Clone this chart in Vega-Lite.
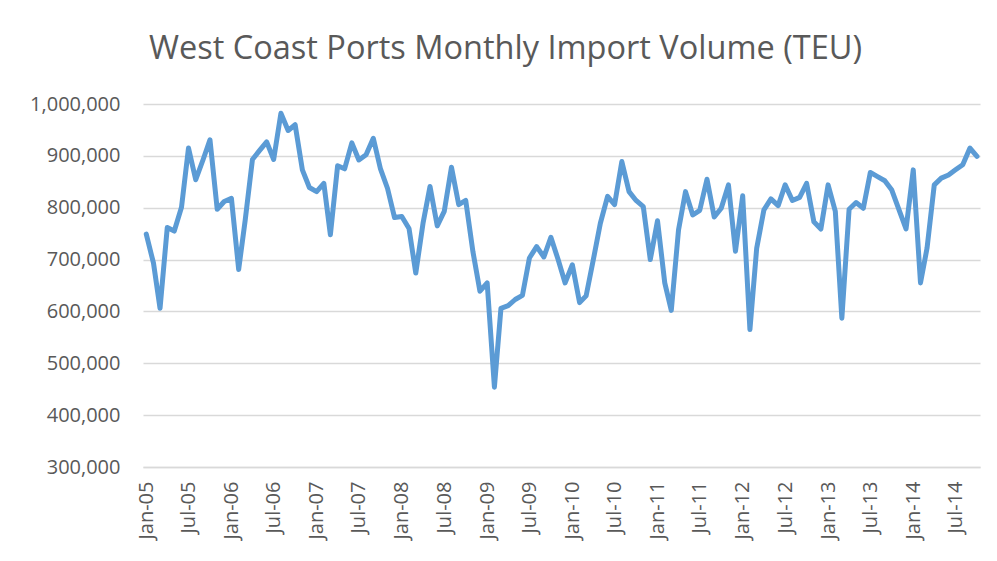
{
  "$schema": "https://vega.github.io/schema/vega-lite/v6.json",
  "width": 837,
  "height": 363,
  "autosize": {"type": "none"},
  "padding": {"left": 143, "top": 104, "right": 17, "bottom": 94},
  "background": "white",
  "title": {
    "text": "West Coast Ports Monthly Import Volume (TEU)",
    "font": "Open Sans",
    "fontSize": 32.5,
    "fontWeight": "normal",
    "color": "#595959",
    "anchor": "middle",
    "dx": -56,
    "offset": 29
  },
  "config": {
    "view": {"stroke": null},
    "axis": {
      "labelFont": "Open Sans",
      "labelFontSize": 20,
      "labelColor": "#595959",
      "gridColor": "#d9d9d9",
      "gridWidth": 1.5,
      "domainColor": "#d9d9d9",
      "domainWidth": 1.5,
      "ticks": false,
      "title": null
    }
  },
  "data": {
    "values": [
      {"month": "2005-01-01", "teu": 749000}, {"month": "2005-02-01", "teu": 693000}, {"month": "2005-03-01", "teu": 606000},
      {"month": "2005-04-01", "teu": 762000}, {"month": "2005-05-01", "teu": 755000}, {"month": "2005-06-01", "teu": 801000},
      {"month": "2005-07-01", "teu": 915000}, {"month": "2005-08-01", "teu": 854000}, {"month": "2005-09-01", "teu": 892000},
      {"month": "2005-10-01", "teu": 931000}, {"month": "2005-11-01", "teu": 797000}, {"month": "2005-12-01", "teu": 812000},
      {"month": "2006-01-01", "teu": 818000}, {"month": "2006-02-01", "teu": 681000}, {"month": "2006-03-01", "teu": 776000},
      {"month": "2006-04-01", "teu": 893000}, {"month": "2006-05-01", "teu": 910000}, {"month": "2006-06-01", "teu": 927000},
      {"month": "2006-07-01", "teu": 893000}, {"month": "2006-08-01", "teu": 982000}, {"month": "2006-09-01", "teu": 949000},
      {"month": "2006-10-01", "teu": 960000}, {"month": "2006-11-01", "teu": 873000}, {"month": "2006-12-01", "teu": 839000},
      {"month": "2007-01-01", "teu": 831000}, {"month": "2007-02-01", "teu": 847000}, {"month": "2007-03-01", "teu": 748000},
      {"month": "2007-04-01", "teu": 881000}, {"month": "2007-05-01", "teu": 875000}, {"month": "2007-06-01", "teu": 925000},
      {"month": "2007-07-01", "teu": 892000}, {"month": "2007-08-01", "teu": 902000}, {"month": "2007-09-01", "teu": 934000},
      {"month": "2007-10-01", "teu": 876000}, {"month": "2007-11-01", "teu": 837000}, {"month": "2007-12-01", "teu": 781000},
      {"month": "2008-01-01", "teu": 783000}, {"month": "2008-02-01", "teu": 760000}, {"month": "2008-03-01", "teu": 674000},
      {"month": "2008-04-01", "teu": 770000}, {"month": "2008-05-01", "teu": 841000}, {"month": "2008-06-01", "teu": 765000},
      {"month": "2008-07-01", "teu": 793000}, {"month": "2008-08-01", "teu": 878000}, {"month": "2008-09-01", "teu": 806000},
      {"month": "2008-10-01", "teu": 814000}, {"month": "2008-11-01", "teu": 715000}, {"month": "2008-12-01", "teu": 639000},
      {"month": "2009-01-01", "teu": 655000}, {"month": "2009-02-01", "teu": 454000}, {"month": "2009-03-01", "teu": 606000},
      {"month": "2009-04-01", "teu": 611000}, {"month": "2009-05-01", "teu": 623000}, {"month": "2009-06-01", "teu": 631000},
      {"month": "2009-07-01", "teu": 703000}, {"month": "2009-08-01", "teu": 725000}, {"month": "2009-09-01", "teu": 705000},
      {"month": "2009-10-01", "teu": 743000}, {"month": "2009-11-01", "teu": 700000}, {"month": "2009-12-01", "teu": 655000},
      {"month": "2010-01-01", "teu": 690000}, {"month": "2010-02-01", "teu": 617000}, {"month": "2010-03-01", "teu": 630000},
      {"month": "2010-04-01", "teu": 700000}, {"month": "2010-05-01", "teu": 770000}, {"month": "2010-06-01", "teu": 822000},
      {"month": "2010-07-01", "teu": 806000}, {"month": "2010-08-01", "teu": 889000}, {"month": "2010-09-01", "teu": 831000},
      {"month": "2010-10-01", "teu": 814000}, {"month": "2010-11-01", "teu": 802000}, {"month": "2010-12-01", "teu": 700000},
      {"month": "2011-01-01", "teu": 775000}, {"month": "2011-02-01", "teu": 655000}, {"month": "2011-03-01", "teu": 602000},
      {"month": "2011-04-01", "teu": 757000}, {"month": "2011-05-01", "teu": 831000}, {"month": "2011-06-01", "teu": 786000},
      {"month": "2011-07-01", "teu": 795000}, {"month": "2011-08-01", "teu": 855000}, {"month": "2011-09-01", "teu": 782000},
      {"month": "2011-10-01", "teu": 799000}, {"month": "2011-11-01", "teu": 844000}, {"month": "2011-12-01", "teu": 716000},
      {"month": "2012-01-01", "teu": 823000}, {"month": "2012-02-01", "teu": 565000}, {"month": "2012-03-01", "teu": 722000},
      {"month": "2012-04-01", "teu": 796000}, {"month": "2012-05-01", "teu": 817000}, {"month": "2012-06-01", "teu": 804000},
      {"month": "2012-07-01", "teu": 844000}, {"month": "2012-08-01", "teu": 814000}, {"month": "2012-09-01", "teu": 820000},
      {"month": "2012-10-01", "teu": 847000}, {"month": "2012-11-01", "teu": 773000}, {"month": "2012-12-01", "teu": 759000},
      {"month": "2013-01-01", "teu": 844000}, {"month": "2013-02-01", "teu": 793000}, {"month": "2013-03-01", "teu": 587000},
      {"month": "2013-04-01", "teu": 797000}, {"month": "2013-05-01", "teu": 810000}, {"month": "2013-06-01", "teu": 799000},
      {"month": "2013-07-01", "teu": 868000}, {"month": "2013-08-01", "teu": 860000}, {"month": "2013-09-01", "teu": 852000},
      {"month": "2013-10-01", "teu": 834000}, {"month": "2013-11-01", "teu": 796000}, {"month": "2013-12-01", "teu": 759000},
      {"month": "2014-01-01", "teu": 873000}, {"month": "2014-02-01", "teu": 655000}, {"month": "2014-03-01", "teu": 722000},
      {"month": "2014-04-01", "teu": 844000}, {"month": "2014-05-01", "teu": 857000}, {"month": "2014-06-01", "teu": 863000},
      {"month": "2014-07-01", "teu": 873000}, {"month": "2014-08-01", "teu": 883000}, {"month": "2014-09-01", "teu": 915000},
      {"month": "2014-10-01", "teu": 899000}
    ]
  },
  "mark": {"type": "line", "color": "#5b9bd5", "strokeWidth": 5, "strokeJoin": "round", "strokeCap": "round"},
  "encoding": {
    "x": {
      "field": "month",
      "type": "temporal",
      "scale": {"type": "utc", "domain": [{"year": 2004, "month": 12, "date": 18, "utc": true}, {"year": 2014, "month": 10, "date": 14, "utc": true}]},
      "axis": {
        "grid": false,
        "labelAngle": -90,
        "labelPadding": 14,
        "format": "%b-%y",
        "values": [
          {"year": 2005, "month": 1, "date": 1, "utc": true}, {"year": 2005, "month": 7, "date": 1, "utc": true},
          {"year": 2006, "month": 1, "date": 1, "utc": true}, {"year": 2006, "month": 7, "date": 1, "utc": true},
          {"year": 2007, "month": 1, "date": 1, "utc": true}, {"year": 2007, "month": 7, "date": 1, "utc": true},
          {"year": 2008, "month": 1, "date": 1, "utc": true}, {"year": 2008, "month": 7, "date": 1, "utc": true},
          {"year": 2009, "month": 1, "date": 1, "utc": true}, {"year": 2009, "month": 7, "date": 1, "utc": true},
          {"year": 2010, "month": 1, "date": 1, "utc": true}, {"year": 2010, "month": 7, "date": 1, "utc": true},
          {"year": 2011, "month": 1, "date": 1, "utc": true}, {"year": 2011, "month": 7, "date": 1, "utc": true},
          {"year": 2012, "month": 1, "date": 1, "utc": true}, {"year": 2012, "month": 7, "date": 1, "utc": true},
          {"year": 2013, "month": 1, "date": 1, "utc": true}, {"year": 2013, "month": 7, "date": 1, "utc": true},
          {"year": 2014, "month": 1, "date": 1, "utc": true}, {"year": 2014, "month": 7, "date": 1, "utc": true}
        ]
      }
    },
    "y": {
      "field": "teu",
      "type": "quantitative",
      "scale": {"domain": [300000, 1000000], "nice": false, "zero": false},
      "axis": {
        "values": [300000, 400000, 500000, 600000, 700000, 800000, 900000, 1000000],
        "format": ",d",
        "domain": false,
        "labelPadding": 23
      }
    }
  }
}
